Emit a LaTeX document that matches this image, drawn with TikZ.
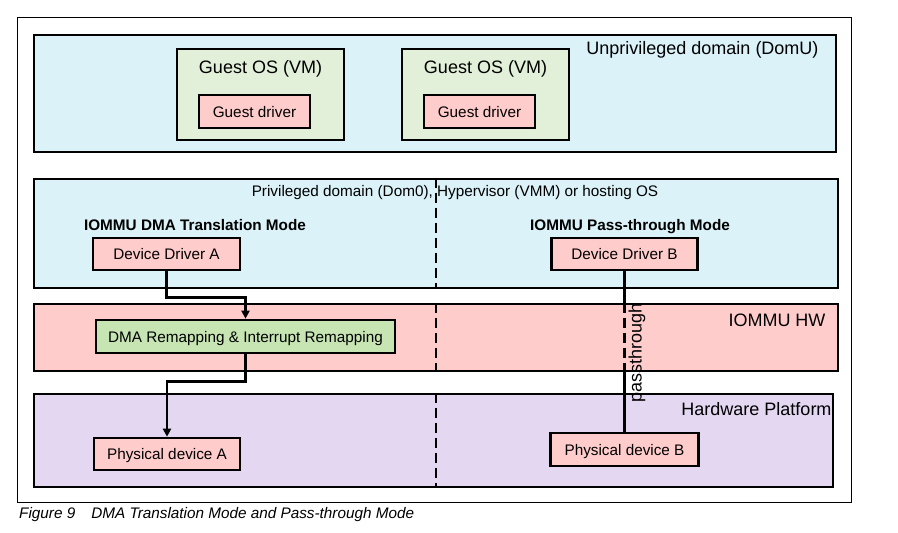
\documentclass[tikz,border=0pt]{standalone}
\usepackage{fontspec}
\setmainfont{Liberation Sans}
\usetikzlibrary{positioning,arrows.meta}

\definecolor{daf2f8}{rgb}{0.855, 0.949, 0.973}
\definecolor{e2f0d9}{rgb}{0.886, 0.941, 0.851}
\definecolor{ffcccc}{rgb}{1, 0.8, 0.8}
\definecolor{c6e5b3}{rgb}{0.776, 0.898, 0.702}
\definecolor{e4d7f1}{rgb}{0.894, 0.843, 0.945}

\begin{document}
\begin{tikzpicture}[x=1pt,y=-1pt,
        band/.style={draw=black,line width=2.8pt,inner sep=0pt},
        box/.style={draw=black,line width=2.6pt,fill=ffcccc,inner sep=0pt,font=\fontsize{15.3pt}{18pt}\selectfont,text height=11pt,text depth=0pt},
        small/.style={font=\fontsize{15.3pt}{18pt}\selectfont,inner sep=0pt,anchor=base},
        smallbf/.style={small,font=\fontsize{15.3pt}{18pt}\selectfont\bfseries},
        big/.style={font=\fontsize{18pt}{21pt}\selectfont,inner sep=0pt,anchor=base},
        divider/.style={line width=2.6pt,dash pattern=on 10pt off 5pt},
        flow/.style={line width=2.6pt,-{Triangle[length=8pt,width=8pt]}}]
        \useasboundingbox (0,0) rectangle (898,533);
        \draw[line width=0.8pt] (17,17) rectangle (851,502); % marco

        % bandas
        \node[band,fill=daf2f8,minimum width=802pt,minimum height=117pt] (domu) at (435,93.5) {};
        \node[band,fill=daf2f8,minimum width=804pt,minimum height=109pt] (domzero) at (436,233.5) {};
        \node[band,fill=ffcccc,minimum width=804pt,minimum height=67pt] (iommu) at (436,337.5) {};
        \node[band,fill=e4d7f1,minimum width=799pt,minimum height=93pt] (hwp) at (433.5,440.5) {};

        \node[big] (domulbl) at (702.5,54) {Unprivileged domain (DomU)};
        \node[small] (domzerolbl) at (455,196.5) {Privileged domain (Dom0), Hypervisor (VMM) or hosting OS};
        \node[big] (iommulbl) at (777,326.5) {IOMMU HW};
        \node[big] (hwplbl) at (756.5,415.5) {Hardware Platform};

        % linea divisoria
        \coordinate (divx) at (436,0);
        \foreach \b in {domzero, iommu, hwp}
        \draw[divider] (\b.north -| divx) -- (\b.south -| divx);

        % maquinas virtuales
        \node[band,line width=2.6pt,fill=e2f0d9,minimum width=167pt,minimum height=91pt] (osA) at (260.5,94.5) {};
        \node[band,line width=2.6pt,fill=e2f0d9,minimum width=167pt,minimum height=91pt] (osB) at (485.5,94.5) {};
        \node[big] (osAlbl) at (260.5,73) {Guest OS (VM)};
        \node[big] (osBlbl) at (485.5,73) {Guest OS (VM)};
        \node[box,minimum width=111pt,minimum height=33pt] (gdA) at (254.5,111.5) {Guest driver};
        \node[box,minimum width=111pt,minimum height=33pt] (gdB) at (479.5,111.5) {Guest driver};

        % modos
        \node[smallbf] (modeA) at (195,230) {IOMMU DMA Translation Mode};
        \node[smallbf] (modeB) at (630,230) {IOMMU Pass-through Mode};
        \node[box,minimum width=147pt,minimum height=32pt] (ddA) at (166.5,254) {Device Driver A};
        \node[box,minimum width=146pt,minimum height=32pt] (ddB) at (624.5,254) {Device Driver B};
        \node[box,fill=c6e5b3,minimum width=299pt,minimum height=33pt] (dma) at (245.5,336.5) {DMA Remapping \& Interrupt Remapping};
        \node[box,minimum width=146pt,minimum height=32pt] (phA) at (167,454) {Physical device A};
        \node[box,minimum width=148pt,minimum height=33pt] (phB) at (624.5,449.5) {Physical device B};

        % conexiones
        \draw[flow] (ddA.south) -- ++(0,26) -| (dma.north);
        \draw[flow] (dma.south) -- ++(0,27) -| (phA.north);

        \coordinate (ptop) at (ddB.south |- iommu.north);
        \coordinate (pbot) at (ddB.south |- iommu.south);
        \draw[line width=2.6pt] (ddB.south) -- (ptop);
        \draw[divider] (ptop) -- (pbot);
        \draw[line width=2.6pt] (pbot) -- (phB.north);
        \node[big,anchor=center,rotate=90] (ptlbl) at (637,353) {passthrough};

        % pie
        \node[small,anchor=base west,font=\fontsize{15.3pt}{18pt}\selectfont\itshape] (caption) at (19,518) {Figure 9\hspace{16pt}DMA Translation Mode and Pass-through Mode};
    \end{tikzpicture}
\end{document}
